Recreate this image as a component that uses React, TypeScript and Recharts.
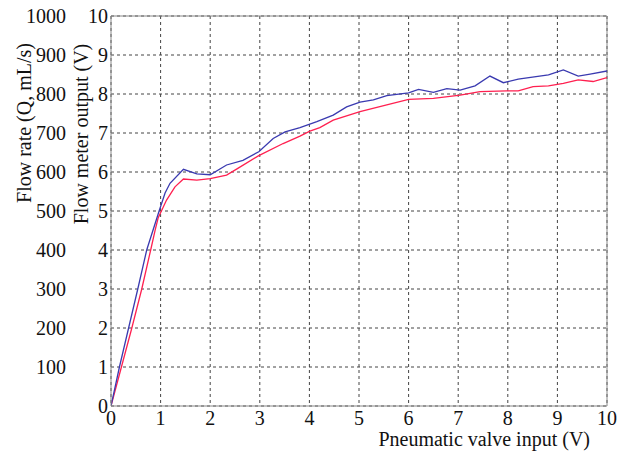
import React from 'react';
import { LineChart, Line, XAxis, YAxis, CartesianGrid, ReferenceLine } from 'recharts';

// Pneumatic valve input (V) and flow meter output (V) readings
const blueInput = [0, 0.17, 0.54, 0.72, 0.97, 1.09, 1.19, 1.46, 1.73, 2.0, 2.33, 2.66, 2.98, 3.27, 3.51, 3.81, 4.15, 4.48, 4.75, 5.02, 5.29, 5.56, 6.0, 6.2, 6.5, 6.77, 7.04, 7.34, 7.64, 7.91, 8.21, 8.82, 9.12, 9.42, 9.66, 10];
const blueOutput = [0, 1, 3, 4, 5, 5.46, 5.71, 6.07, 5.95, 5.93, 6.18, 6.3, 6.52, 6.86, 7.03, 7.14, 7.29, 7.46, 7.67, 7.79, 7.85, 7.96, 8.03, 8.12, 8.04, 8.14, 8.1, 8.21, 8.46, 8.29, 8.38, 8.49, 8.62, 8.46, 8.51, 8.59];

const redInput = [0, 0.21, 0.42, 0.62, 0.8, 0.89, 0.95, 1.12, 1.29, 1.46, 1.73, 2.0, 2.33, 2.54, 2.98, 3.47, 3.81, 4.01, 4.21, 4.48, 5.02, 5.56, 6.0, 6.5, 7.04, 7.44, 7.98, 8.21, 8.51, 8.82, 9.12, 9.42, 9.72, 10];
const redOutput = [0, 1, 2, 3, 4, 4.51, 4.82, 5.28, 5.62, 5.82, 5.79, 5.83, 5.92, 6.08, 6.42, 6.73, 6.92, 7.05, 7.14, 7.33, 7.55, 7.72, 7.86, 7.89, 7.97, 8.06, 8.08, 8.08, 8.19, 8.21, 8.27, 8.36, 8.32, 8.42];

const xTicks = [0, 1, 2, 3, 4, 5, 6, 7, 8, 9, 10];
const voltTicks = [0, 1, 2, 3, 4, 5, 6, 7, 8, 9, 10];
const flowTicks = [100, 200, 300, 400, 500, 600, 700, 800, 900, 1000];

const xLabel = 'Pneumatic valve input (V)';
const flowLabel = 'Flow rate (Q, mL/s)';
const voltLabel = 'Flow meter output (V)';

const blueData = blueInput.map((x, i) => ({ x, y: blueOutput[i] }));
const redData = redInput.map((x, i) => ({ x, y: redOutput[i] }));

const FONT = '"Liberation Serif", "DejaVu Serif", serif';
const tickStyle = { fontFamily: FONT, fontSize: 20, fill: '#111' };

const RotLabel = (text: string, dxFromLeft: number, centerY: number) => (props: any) => {
  const vb = props.viewBox || {};
  const cx = vb.x + dxFromLeft;
  const cy = centerY;
  return (
    <text
      x={cx}
      y={cy}
      transform={`rotate(-90, ${cx}, ${cy})`}
      textAnchor="middle"
      dominantBaseline="central"
      fontFamily={FONT}
      fontSize={20}
      fill="#111"
    >
      {text}
    </text>
  );
};

const XLabel = (props: any) => {
  const vb = props.viewBox || {};
  return (
    <text
      x={vb.x + vb.width - 17}
      y={vb.y + 40}
      textAnchor="end"
      fontFamily={FONT}
      fontSize={20}
      fill="#111"
    >
      {xLabel}
    </text>
  );
};

export default function App() {
  return (
    <div style={{ position: 'absolute', left: 0, top: 0, background: '#fff', fontFamily: FONT }}>
      <LineChart width={624} height={454} margin={{ top: 16, right: 17, bottom: 0, left: 0 }}>
        <CartesianGrid stroke="#444" strokeDasharray="3 3" strokeWidth={1} yAxisId="a_volt" />
        <XAxis
          dataKey="x"
          type="number"
          domain={[0, 10]}
          ticks={xTicks}
          allowDataOverflow
          height={48}
          tickSize={0}
          tickMargin={5}
          tick={tickStyle}
          stroke="#888"
          label={<XLabel />}
        />
        <YAxis
          yAxisId="a_volt"
          orientation="left"
          type="number"
          domain={[0, 10]}
          ticks={voltTicks}
          allowDataOverflow
          width={40}
          tickSize={0}
          tickMargin={3}
          stroke="#888"
          tick={tickStyle}
          interval={0}
          label={{ content: RotLabel(voltLabel, 10, 134) } as any}
        />
        <YAxis
          yAxisId="b_flow"
          orientation="left"
          type="number"
          domain={[0, 1000]}
          ticks={flowTicks}
          allowDataOverflow
          width={71}
          tickSize={0}
          tickMargin={5}
          axisLine={false}
          tick={tickStyle}
          interval={0}
          label={{ content: RotLabel(flowLabel, 24, 123) } as any}
        />
        <ReferenceLine yAxisId="a_volt" y={10} stroke="#888" strokeWidth={1} />
        <ReferenceLine yAxisId="a_volt" x={10} stroke="#888" strokeWidth={1} />
        <Line
          yAxisId="a_volt"
          data={redData}
          dataKey="y"
          type="linear"
          stroke="#ff2050"
          strokeWidth={1.3}
          dot={false}
          isAnimationActive={false}
        />
        <Line
          yAxisId="a_volt"
          data={blueData}
          dataKey="y"
          type="linear"
          stroke="#3a3ab0"
          strokeWidth={1.3}
          dot={false}
          isAnimationActive={false}
        />
      </LineChart>
    </div>
  );
}
